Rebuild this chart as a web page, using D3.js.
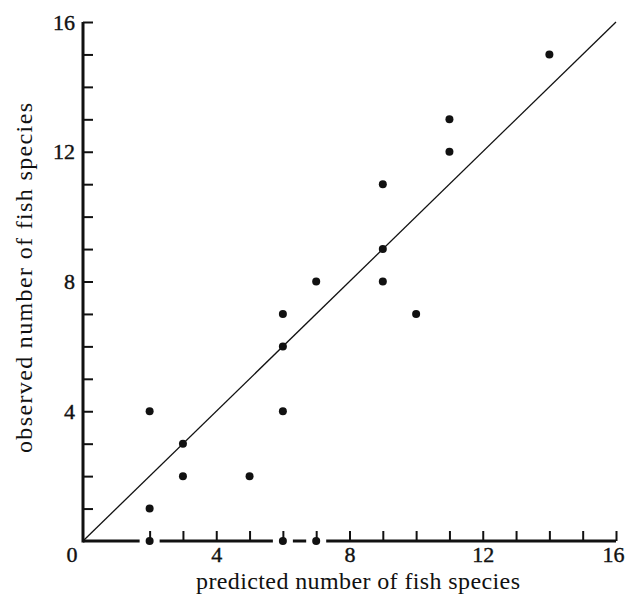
<!DOCTYPE html>
<html>
<head>
<meta charset="utf-8">
<script src="https://cdn.jsdelivr.net/npm/d3@7"></script>
<style>
  body { margin: 0; background: #fff; }
</style>
</head>
<body>
<div id="chart"></div>
<script>
// data
var predicted = [2, 2, 2, 3, 3, 5, 6, 6, 6, 6, 7, 7, 9, 9, 9, 10, 11, 11, 14];
var observed  = [4, 1, 0, 3, 2, 2, 7, 6, 4, 0, 8, 0, 11, 9, 8, 7, 13, 12, 15];
var xTicks = [2, 3, 4, 5, 6, 7, 8, 9, 10, 11, 12, 13, 14, 15, 16];
var yTicks = [1, 2, 3, 4, 5, 6, 7, 8, 9, 10, 11, 12, 13, 14, 15, 16];
var labelTicks = [4, 8, 12, 16];

var serif = "Liberation Serif";
var width = 626, height = 602;
var margin = {top: 22, right: 10, bottom: 61, left: 83};

var svg = d3.select("#chart")
    .append("svg")
    .attr("width", width)
    .attr("height", height);

var x = d3.scaleLinear().domain([0, 16]).range([margin.left, width - margin.right]);
var y = d3.scaleLinear().domain([0, 16]).range([height - margin.bottom, margin.top]);

var data = predicted.map(function(d, i) { return {p: d, o: observed[i]}; });

// y = x reference line
svg.append("line")
    .attr("x1", x(0)).attr("y1", y(0))
    .attr("x2", x(16)).attr("y2", y(16))
    .attr("stroke", "#111")
    .attr("stroke-width", 1.3);

// y axis, ticks pointing inwards
var yAxis = svg.append("g")
    .attr("transform", "translate(" + x(0) + ",0)")
    .call(d3.axisLeft(y)
        .tickValues(yTicks)
        .tickSize(-10)
        .tickPadding(8)
        .tickFormat(function(d) { return labelTicks.indexOf(d) >= 0 ? d : ""; }));
yAxis.attr("font-family", serif).attr("font-size", 22);
yAxis.select(".domain").remove();
yAxis.selectAll(".tick line").attr("stroke", "#111").attr("stroke-width", 2);
yAxis.selectAll(".tick text").attr("fill", "#111").attr("font-family", serif)
    .attr("stroke", "#111").attr("stroke-width", 0.4);
yAxis.append("line")
    .attr("x1", 0).attr("x2", 0)
    .attr("y1", y(0) + 1.5).attr("y2", y(16))
    .attr("stroke", "#111").attr("stroke-width", 3);

// x axis, broken where points sit on it
var xAxis = svg.append("g")
    .attr("transform", "translate(0," + y(0) + ")")
    .call(d3.axisBottom(x)
        .tickValues(xTicks)
        .tickSize(-10)
        .tickPadding(5)
        .tickFormat(function(d) { return labelTicks.indexOf(d) >= 0 ? d : ""; }));
xAxis.attr("font-family", serif).attr("font-size", 22);
xAxis.select(".domain").remove();
xAxis.selectAll(".tick line").attr("stroke", "#111").attr("stroke-width", 2);
xAxis.selectAll(".tick text").attr("fill", "#111").attr("font-family", serif)
    .attr("stroke", "#111").attr("stroke-width", 0.4)
    .attr("dx", function(d) { return d === 16 ? -3 : 0; });

var onAxis = data.filter(function(d) { return d.o === 0; })
    .map(function(d) { return d.p; }).sort(d3.ascending);
var gap = 10;
var start = x(0);
onAxis.forEach(function(p) {
    xAxis.append("line")
        .attr("x1", start).attr("x2", x(p) - gap)
        .attr("stroke", "#111").attr("stroke-width", 3);
    start = x(p) + gap;
});
xAxis.append("line")
    .attr("x1", start).attr("x2", x(16))
    .attr("stroke", "#111").attr("stroke-width", 3);

// the lone zero at the corner
svg.append("text")
    .attr("x", x(0) - 11)
    .attr("y", y(0) + 21)
    .attr("text-anchor", "middle")
    .attr("font-family", serif)
    .attr("font-size", 22)
    .attr("fill", "#111")
    .attr("stroke", "#111").attr("stroke-width", 0.4)
    .text("0");

// points
svg.selectAll("circle.pt")
    .data(data)
    .enter()
    .append("circle")
    .attr("class", "pt")
    .attr("cx", function(d) { return x(d.p); })
    .attr("cy", function(d) { return y(d.o); })
    .attr("r", 4)
    .attr("fill", "#111");

// axis titles
svg.append("text")
    .attr("x", 358)
    .attr("y", 589)
    .attr("text-anchor", "middle")
    .attr("font-family", serif)
    .attr("font-size", 24)
    .attr("fill", "#111")
    .attr("textLength", 324)
    .attr("lengthAdjust", "spacing")
    .text("predicted number of fish species");

svg.append("text")
    .attr("transform", "translate(32,278) rotate(-90)")
    .attr("text-anchor", "middle")
    .attr("font-family", serif)
    .attr("font-size", 24)
    .attr("fill", "#111")
    .attr("textLength", 350)
    .attr("lengthAdjust", "spacing")
    .text("observed number of fish species");
</script>
</body>
</html>
